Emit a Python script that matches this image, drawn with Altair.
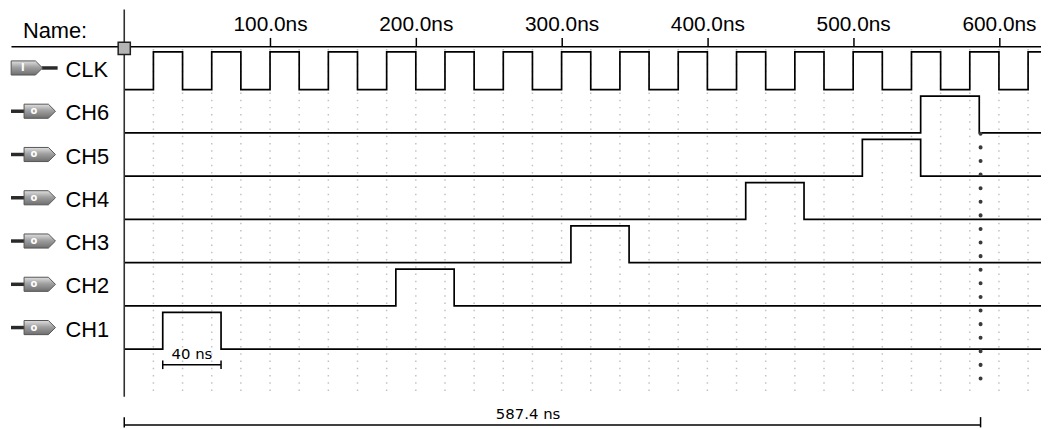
import altair as alt
import pandas as pd

# ---------------- data ----------------
signal_names = ["CLK", "CH6", "CH5", "CH4", "CH3", "CH2", "CH1"]
signal_rows = [1, 2, 3, 4, 5, 6, 7]
pin_types = ["I", "o", "o", "o", "o", "o", "o"]

clk_times = [0, 20, 40, 60, 80, 100, 120, 140, 160, 180, 200, 220, 240, 260, 280, 300,
             320, 340, 360, 380, 400, 420, 440, 460, 480, 500, 520, 540, 560, 580, 600, 620]
clk_levels = [0, 1, 0, 1, 0, 1, 0, 1, 0, 1, 0, 1, 0, 1, 0, 1,
              0, 1, 0, 1, 0, 1, 0, 1, 0, 1, 0, 1, 0, 1, 0, 1]

pulse_names = ["CH1", "CH2", "CH3", "CH4", "CH5", "CH6"]
pulse_rise = [26.4, 186.3, 306.4, 426.3, 506.3, 546.3]
pulse_fall = [66.4, 226.3, 346.3, 466.3, 546.3, 586.5]

grid_times = [20, 40, 60, 80, 100, 120, 140, 160, 180, 200, 220, 240, 260, 280, 300, 320,
              340, 360, 380, 400, 420, 440, 460, 480, 500, 520, 540, 560, 580, 600, 620]
tick_values = [100, 200, 300, 400, 500, 600]

pulse_label = "40 ns"
pulse_measure = [26.4, 66.4]
marker_time = 587.4
marker_label = "587.4 ns"

T_MIN, T_MAX = -77.70, 628.85
Y_MAX = 8.807
FONT = "Liberation Sans"

# ---------------- tables ----------------
row_of = dict(zip(signal_names, signal_rows))
wave_rows = []
for t, lv in zip(clk_times, clk_levels):
    wave_rows.append({"signal": "CLK", "t": t, "level": lv, "row": 1, "h": 0.87})
wave_rows.append({"signal": "CLK", "t": T_MAX, "level": clk_levels[-1], "row": 1, "h": 0.87})
for name, r, f in zip(pulse_names, pulse_rise, pulse_fall):
    for t, lv in [(0, 0), (r, 1), (f, 0), (T_MAX, 0)]:
        wave_rows.append({"signal": name, "t": t, "level": lv, "row": row_of[name], "h": 0.85})
waves = pd.DataFrame(wave_rows)
names = pd.DataFrame({"name": signal_names, "row": signal_rows, "pin": pin_types})
grid = pd.DataFrame({"t": grid_times})

xs = alt.Scale(domain=[T_MIN, T_MAX], nice=False, zero=False)
ys = alt.Scale(domain=[0, Y_MAX], reverse=True, nice=False, zero=False)

x_axis = alt.Axis(
    orient="top", values=tick_values,
    labelExpr="format(datum.value, '.1f') + 'ns'",
    tickSize=9, tickWidth=1.5, tickColor="#000",
    domainColor="#000", domainWidth=1.5,
    labelFont=FONT, labelFontSize=21, labelColor="#000", labelPadding=3,
    labelFlush=False, labelOverlap=False, grid=False, title=None)


def X(field="t:Q"):
    return alt.X(field, scale=xs, axis=x_axis)


def Y(field):
    return alt.Y(field, scale=ys, axis=None)


def YD(v):
    return alt.Y(datum=v, scale=ys, axis=None)


# wave lines
wave_layer = alt.Chart(waves).transform_calculate(
    y="datum.row - datum.level * datum.h"
).mark_line(interpolate="step-after", color="#000", strokeWidth=1.7).encode(
    x=X(), y=Y("y:Q"), detail="signal:N", order="t:Q",
)

grid_layer = alt.Chart(grid).mark_rule(
    color="#c2c2c2", strokeDash=[1.5, 5.8], strokeWidth=1.5
).encode(x=X(), y=YD(0.06), y2=alt.Y2(datum=8.1))

zero_df = pd.DataFrame({"t": [0]})
vline = alt.Chart(zero_df).mark_rule(color="#303030", strokeWidth=1.6).encode(
    x=X(), y=YD(-0.85), y2=alt.Y2(datum=8.1))

handle = alt.Chart(zero_df).mark_square(
    size=150, fill="#b4b4b4", stroke="#202020", strokeWidth=1.5, opacity=1
).encode(x=X(), y=YD(0.046))

# measurement of pulse width
pm = pd.DataFrame({"t": [pulse_measure[0]], "t2": [pulse_measure[1]]})
pm_ends = pd.DataFrame({"t": pulse_measure})
pm_rule = alt.Chart(pm).mark_rule(color="#000", strokeWidth=1.5).encode(
    x=X(), x2="t2:Q", y=YD(7.36))
pm_ticks = alt.Chart(pm_ends).mark_rule(color="#000", strokeWidth=1.5).encode(
    x=X(), y=YD(7.26), y2=alt.Y2(datum=7.46))
pm_text = alt.Chart(pd.DataFrame({"t": [sum(pulse_measure) / 2], "label": [pulse_label]})).mark_text(
    font="DejaVu Sans", fontSize=15, color="#000", baseline="middle", align="center"
).encode(x=X(), y=YD(7.12), text="label:N")

# total time measurement
tm = pd.DataFrame({"t": [0], "t2": [marker_time]})
tm_ends = pd.DataFrame({"t": [0, marker_time]})
tm_rule = alt.Chart(tm).mark_rule(color="#000", strokeWidth=1.5).encode(
    x=X(), x2="t2:Q", y=YD(8.75))
tm_ticks = alt.Chart(tm_ends).mark_rule(color="#000", strokeWidth=1.5).encode(
    x=X(), y=YD(8.57), y2=alt.Y2(datum=8.807))
tm_text = alt.Chart(pd.DataFrame({"t": [277], "label": [marker_label]})).mark_text(
    font="DejaVu Sans", fontSize=15, color="#000", baseline="middle", align="center"
).encode(x=X(), y=YD(8.5), text="label:N")

marker = alt.Chart(pd.DataFrame({"t": [marker_time]})).mark_rule(
    color="#3a3a3a", strokeWidth=4, strokeDash=[0.1, 13.6], strokeCap="round"
).encode(x=X(), y=YD(2.02), y2=alt.Y2(datum=7.70))

# name column
name_text = alt.Chart(names).transform_calculate(ty="datum.row - 0.45").mark_text(
    font=FONT, fontSize=22, color="#000", align="left", baseline="middle"
).encode(x=alt.value(55), y=Y("ty:Q"), text="name:N")

header_text = alt.Chart(pd.DataFrame({"label": ["Name:"]})).mark_text(
    font=FONT, fontSize=22, color="#000", align="left", baseline="middle"
).encode(x=alt.value(12), y=YD(-0.36), text="label:N")

grad = alt.Gradient(
    gradient="linear",
    stops=[alt.GradientStop(color="#e0e0e0", offset=0),
           alt.GradientStop(color="#a0a0a0", offset=0.45),
           alt.GradientStop(color="#6e6e6e", offset=1)],
    x1=0, x2=0, y1=0, y2=1)
pent = "M -1 -0.45 L 0.55 -0.45 L 1 0 L 0.55 0.45 L -1 0.45 Z"

inp = names[names.pin == "I"]
outp = names[names.pin == "o"]

in_wire = alt.Chart(inp).transform_calculate(ty="datum.row - 0.5").mark_rule(
    color="#2a2a2a", strokeWidth=3.5).encode(x=alt.value(31), x2=alt.value(47), y=Y("ty:Q"))
in_body = alt.Chart(inp).transform_calculate(ty="datum.row - 0.5").mark_point(
    shape=pent, size=1000, filled=True, fill=grad, stroke="#555", strokeWidth=1, opacity=1
).encode(x=alt.value(16), y=Y("ty:Q"))
in_txt = alt.Chart(inp).transform_calculate(ty="datum.row - 0.5").mark_text(
    font="DejaVu Sans", fontSize=10, fontWeight="bold", color="#fff", baseline="middle"
).encode(x=alt.value(12), y=Y("ty:Q"), text="pin:N")

out_wire = alt.Chart(outp).transform_calculate(ty="datum.row - 0.5").mark_rule(
    color="#2a2a2a", strokeWidth=3.5).encode(x=alt.value(0), x2=alt.value(15), y=Y("ty:Q"))
out_body = alt.Chart(outp).transform_calculate(ty="datum.row - 0.5").mark_point(
    shape=pent, size=1000, filled=True, fill=grad, stroke="#555", strokeWidth=1, opacity=1
).encode(x=alt.value(29), y=Y("ty:Q"))
out_txt = alt.Chart(outp).transform_calculate(ty="datum.row - 0.5").mark_text(
    font="DejaVu Sans", fontSize=10, fontWeight="bold", color="#fff", baseline="middle"
).encode(x=alt.value(23), y=Y("ty:Q"), text="pin:N")

chart = alt.layer(
    grid_layer, wave_layer, vline, marker,
    pm_rule, pm_ticks, pm_text, tm_rule, tm_ticks, tm_text,
    name_text, header_text, in_wire, in_body, in_txt, out_wire, out_body, out_txt,
    handle,
).properties(
    width=1038, height=384,
    padding={"left": 3, "top": 37, "right": 0, "bottom": 0},
    autosize=alt.AutoSizeParams(type="none"),
    background="#ffffff",
).configure_view(stroke=None)

chart.save("out.html", embed_options={"renderer": "svg", "actions": False})
